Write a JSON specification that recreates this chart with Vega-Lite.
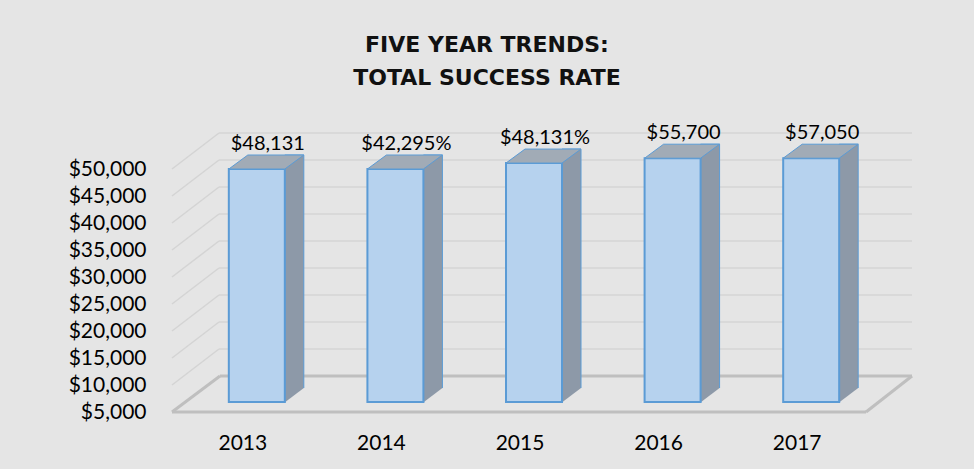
{
  "$schema": "https://vega.github.io/schema/vega-lite/v6.json",
  "width": 724,
  "height": 243,
  "autosize": {"type": "none"},
  "padding": {"left": 172, "top": 169, "right": 78, "bottom": 57},
  "background": "#e5e5e5",
  "title": {
    "text": ["FIVE YEAR TRENDS:", "TOTAL SUCCESS RATE"],
    "font": "DejaVu Sans",
    "fontSize": 22,
    "fontWeight": "bold",
    "color": "#111111",
    "lineHeight": 33,
    "anchor": "middle",
    "frame": "group",
    "dx": -47,
    "offset": 33
  },
  "datasets": {
    "bars": [
      {"year": "2013", "value": 50000, "label": "$48,131"},
      {"year": "2014", "value": 50000, "label": "$42,295%"},
      {"year": "2015", "value": 51100, "label": "$48,131%"},
      {"year": "2016", "value": 52000, "label": "$55,700"},
      {"year": "2017", "value": 52000, "label": "$57,050"}
    ],
    "ticks": [
      {"v": 5000}, {"v": 10000}, {"v": 15000}, {"v": 20000}, {"v": 25000},
      {"v": 30000}, {"v": 35000}, {"v": 40000}, {"v": 45000}, {"v": 50000}
    ]
  },
  "data": {"name": "bars"},
  "config": {
    "view": {"stroke": null},
    "font": "Lato",
    "axis": {"labelOverlap": false},
    "axisX": {"domain": false, "ticks": false, "grid": false, "labelAngle": 0, "labelFont": "Lato", "labelFontSize": 21, "labelColor": "#000000", "labelPadding": 20, "labelOffset": -14},
    "axisY": {"domain": false, "ticks": false, "grid": false, "labelOverlap": false, "labelFont": "Lato", "labelFontSize": 21, "labelColor": "#000000", "labelPadding": 26}
  },
  "layer": [
    {
      "data": {"name": "ticks"},
      "transform": [{"filter": "datum.v > 5000"}],
      "mark": {"type": "rule", "color": "#d4d4d4", "strokeWidth": 1.5, "yOffset": -36, "xOffset": 47, "x2Offset": 16},
      "encoding": {
        "x": {"value": 0},
        "x2": {"value": "width"},
        "y": {"field": "v", "type": "quantitative", "title": null, "scale": {"domain": [5000, 50000], "zero": false, "nice": false},
              "axis": {"values": [5000, 10000, 15000, 20000, 25000, 30000, 35000, 40000, 45000, 50000], "format": "$,.0f", "labelOverlap": false}}
      }
    },
    {
      "data": {"name": "ticks"},
      "transform": [{"filter": "datum.v > 5000"}],
      "mark": {"type": "rule", "color": "#d4d4d4", "strokeWidth": 1.5, "x2Offset": 47, "y2Offset": -36},
      "encoding": {
        "x": {"value": 0},
        "x2": {"value": 0},
        "y": {"field": "v", "type": "quantitative", "title": null,
              "axis": {"values": [5000, 10000, 15000, 20000, 25000, 30000, 35000, 40000, 45000, 50000], "format": "$,.0f", "labelOverlap": false}},
        "y2": {"field": "v"}
      }
    },
    {
      "data": {"name": "ticks"},
      "transform": [{"filter": "datum.v == 5000"}],
      "mark": {"type": "rule", "color": "#bfbfbf", "strokeWidth": 3, "x2Offset": -30},
      "encoding": {
        "x": {"value": 0},
        "x2": {"value": "width"},
        "y": {"field": "v", "type": "quantitative", "title": null,
              "axis": {"values": [5000, 10000, 15000, 20000, 25000, 30000, 35000, 40000, 45000, 50000], "format": "$,.0f", "labelOverlap": false}}
      }
    },
    {
      "data": {"name": "ticks"},
      "transform": [{"filter": "datum.v == 5000"}],
      "mark": {"type": "rule", "color": "#bfbfbf", "strokeWidth": 3, "yOffset": -36, "xOffset": 48, "x2Offset": 16},
      "encoding": {
        "x": {"value": 0},
        "x2": {"value": "width"},
        "y": {"field": "v", "type": "quantitative", "title": null,
              "axis": {"values": [5000, 10000, 15000, 20000, 25000, 30000, 35000, 40000, 45000, 50000], "format": "$,.0f", "labelOverlap": false}}
      }
    },
    {
      "data": {"name": "ticks"},
      "transform": [{"filter": "datum.v == 5000"}],
      "mark": {"type": "rule", "color": "#bfbfbf", "strokeWidth": 3, "x2Offset": 48, "y2Offset": -36},
      "encoding": {
        "x": {"value": 0},
        "x2": {"value": 0},
        "y": {"field": "v", "type": "quantitative", "title": null,
              "axis": {"values": [5000, 10000, 15000, 20000, 25000, 30000, 35000, 40000, 45000, 50000], "format": "$,.0f", "labelOverlap": false}},
        "y2": {"field": "v"}
      }
    },
    {
      "data": {"name": "ticks"},
      "transform": [{"filter": "datum.v == 5000"}],
      "mark": {"type": "rule", "color": "#bfbfbf", "strokeWidth": 3, "xOffset": -30, "x2Offset": 16, "y2Offset": -36},
      "encoding": {
        "x": {"value": "width"},
        "x2": {"value": "width"},
        "y": {"field": "v", "type": "quantitative", "title": null,
              "axis": {"values": [5000, 10000, 15000, 20000, 25000, 30000, 35000, 40000, 45000, 50000], "format": "$,.0f", "labelOverlap": false}},
        "y2": {"field": "v"}
      }
    },
    {
      "mark": {"type": "bar", "width": 19, "xOffset": 37.5, "yOffset": -14, "y2Offset": -10, "fill": "#8d99a8", "stroke": "#5b9bd5", "strokeWidth": 1},
      "encoding": {
        "x": {"field": "year", "type": "nominal", "title": null, "scale": {"paddingInner": 0.596, "paddingOuter": 0.41}},
        "y": {"field": "value", "type": "quantitative", "title": null,
              "axis": {"values": [5000, 10000, 15000, 20000, 25000, 30000, 35000, 40000, 45000, 50000], "format": "$,.0f", "labelOverlap": false}},
        "y2": {"datum": 5000}
      }
    },
    {
      "mark": {"type": "point", "shape": "M 28.5 0 L 47 -14 L 49.5 -14 L 49.5 3 L 28.5 3 Z", "size": 4, "filled": true, "fill": "#e5e5e5", "stroke": null, "opacity": 1, "yOffset": -10},
      "encoding": {
        "x": {"field": "year", "type": "nominal", "title": null},
        "y": {"datum": 5000, "type": "quantitative", "title": null,
              "axis": {"values": [5000, 10000, 15000, 20000, 25000, 30000, 35000, 40000, 45000, 50000], "format": "$,.0f", "labelOverlap": false}}
      }
    },
    {
      "mark": {"type": "bar", "y2Offset": -10, "fill": "#b6d2ee", "stroke": "#5b9bd5", "strokeWidth": 2},
      "encoding": {
        "x": {"field": "year", "type": "nominal", "title": null},
        "y": {"field": "value", "type": "quantitative", "title": null,
              "axis": {"values": [5000, 10000, 15000, 20000, 25000, 30000, 35000, 40000, 45000, 50000], "format": "$,.0f", "labelOverlap": false}},
        "y2": {"datum": 5000}
      }
    },
    {
      "mark": {"type": "point", "shape": "M -28 0 L 28 0 L 47 -14 L -9 -14 Z", "size": 4, "filled": true, "fill": "#a1abb6", "stroke": "#5b9bd5", "strokeWidth": 1, "opacity": 1},
      "encoding": {
        "x": {"field": "year", "type": "nominal", "title": null},
        "y": {"field": "value", "type": "quantitative", "title": null,
              "axis": {"values": [5000, 10000, 15000, 20000, 25000, 30000, 35000, 40000, 45000, 50000], "format": "$,.0f", "labelOverlap": false}}
      }
    },
    {
      "mark": {"type": "text", "font": "Lato", "fontSize": 20, "color": "#000000", "baseline": "middle", "align": "center", "dx": 11, "dy": -25},
      "encoding": {
        "x": {"field": "year", "type": "nominal", "title": null},
        "y": {"field": "value", "type": "quantitative", "title": null,
              "axis": {"values": [5000, 10000, 15000, 20000, 25000, 30000, 35000, 40000, 45000, 50000], "format": "$,.0f", "labelOverlap": false}},
        "text": {"field": "label"}
      }
    }
  ]
}
